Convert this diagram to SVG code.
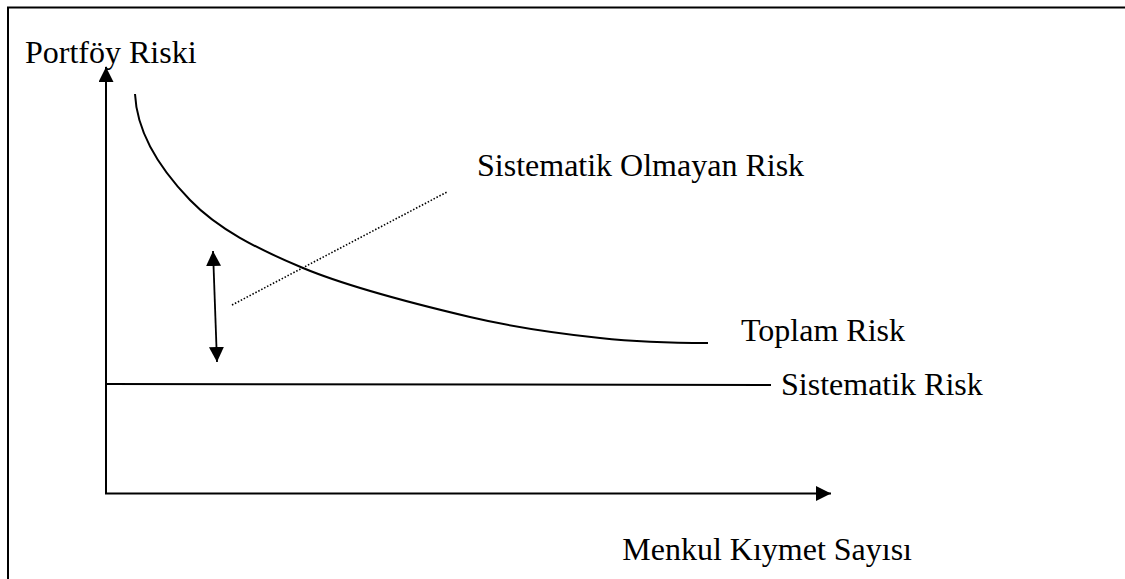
<svg xmlns="http://www.w3.org/2000/svg" width="1125" height="579" viewBox="0 0 1125 579">
  <style>
    .ln { fill: none; stroke: #000; stroke-width: 2; }
    .thin { fill: none; stroke: #000; stroke-width: 1.8; }
    .dot { fill: none; stroke: #000; stroke-width: 1.6; stroke-dasharray: 1.5 1.8; }
    .lbl { font-family: "Liberation Serif", "Times New Roman", serif; font-size: 32px; fill: #000; }
  </style>
  <defs>
    <marker id="ah" markerUnits="userSpaceOnUse" markerWidth="16" markerHeight="16" refX="15" refY="7.5" orient="auto-start-reverse" viewBox="0 0 16 16">
      <path d="M0,0 L15,7.5 L0,15 z" fill="#000"/>
    </marker>
  </defs>
  <rect width="1125" height="579" fill="#fff"/>
  <g id="frame">
    <path class="ln" d="M8,579 L8,7.5 L1125,7.5"/>
  </g>
  <g id="connectors">
    <line id="y-axis" class="ln" x1="106" y1="493" x2="106" y2="67" marker-end="url(#ah)"/>
    <line id="x-axis" class="ln" x1="105" y1="493.5" x2="831" y2="493.5" marker-end="url(#ah)"/>
    <path id="total-risk-curve" class="ln" d="M135,94 C137,135 162,171 190,200 C218,229 256.3,248.5 303,268 C349.7,287.5 420.5,305.3 470,317 C519.5,328.7 560.3,333.7 600,338 C639.7,342.3 690,343 708,343"/>
    <line id="systematic-risk-line" class="ln" x1="106" y1="384" x2="771" y2="385"/>
    <line id="unsystematic-arrow" class="thin" x1="213" y1="251" x2="217" y2="362" marker-start="url(#ah)" marker-end="url(#ah)"/>
    <line id="unsystematic-pointer" class="dot" x1="232" y1="305" x2="447" y2="192"/>
  </g>
  <g id="label-portfoy-riski">
    <text class="lbl" x="25" y="63">Portföy Riski</text>
  </g>
  <g id="label-sistematik-olmayan-risk">
    <text class="lbl" x="477" y="176">Sistematik Olmayan Risk</text>
  </g>
  <g id="label-toplam-risk">
    <text class="lbl" x="741" y="341">Toplam Risk</text>
  </g>
  <g id="label-sistematik-risk">
    <text class="lbl" x="781" y="395">Sistematik Risk</text>
  </g>
  <g id="label-menkul-kiymet-sayisi">
    <text class="lbl" x="912" y="560" text-anchor="end">Menkul Kıymet Sayısı</text>
  </g>
</svg>
